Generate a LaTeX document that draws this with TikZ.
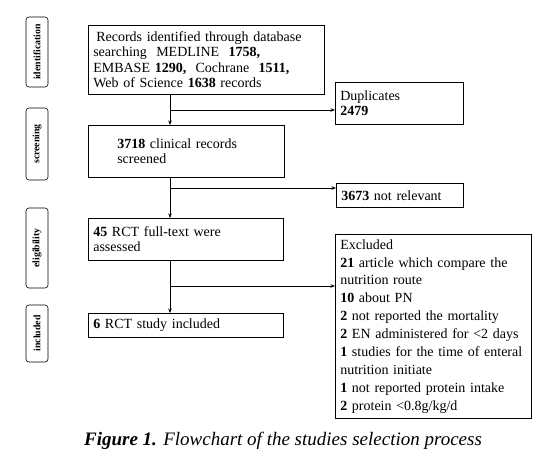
\documentclass[tikz,border=0pt]{standalone}
\usepackage{fontspec}
\setmainfont{Liberation Serif}
\usetikzlibrary{arrows.meta}
\begin{document}
\begin{tikzpicture}[x=1pt,y=-1pt,
  box/.style={draw, line width=0.6pt, anchor=north west, align=left, inner xsep=5pt, inner ysep=2pt, font=\fontsize{14}{15.5}\selectfont},
  lab/.style={draw, rounded corners=3pt, line width=0.6pt, minimum height=22pt, inner sep=1pt, rotate=90, font=\fontsize{9.8}{11}\selectfont\bfseries},
  conn/.style={line width=0.6pt},
  arr/.style={line width=0.6pt, -{Stealth[length=4.5pt,width=3.5pt]}}
]
\useasboundingbox (0,0) rectangle (553,463);
% stage labels
\node[lab, minimum width=70pt] (lid) at (37,52) {identification};
\node[lab, minimum width=72pt] (lsc) at (37,144) {screening};
\node[lab, minimum width=80pt] (lel) at (37,248) {eligibility};
\node[lab, minimum width=57pt] (lin) at (37,333.5) {included};
% boxes
\node[box, text width=226pt, minimum height=69pt] (b1) at (88,25)
  {\hspace*{3pt}Records identified through database\\searching\ \ MEDLINE\ \ \textbf{1758,}\\EMBASE \textbf{1290,}\ \ Cochrane\ \ \textbf{1511,}\\Web of Science \textbf{1638} records};
\node[box, text width=118pt, minimum height=42pt] (dup) at (335,82)
  {Duplicates\\\textbf{2479}};
\node[box, text width=186pt, minimum height=52pt] (b2) at (88,125)
  {\hspace*{24pt}\textbf{3718} clinical records\\\hspace*{24pt}screened};
\node[box, text width=117pt, minimum height=24pt] (nr) at (336,183)
  {\textbf{3673} not relevant};
\node[box, text width=185pt, minimum height=42pt] (b3) at (88,218)
  {\textbf{45} RCT full-text were\\assessed};
\node[box, text width=190pt, inner xsep=3pt, minimum height=184pt, font=\fontsize{14}{17.9}\selectfont] (exc) at (335,234)
  {\hspace*{2pt}Excluded\\\hspace*{2pt}\textbf{21} article which compare the\\\hspace*{2pt}nutrition route\\\hspace*{2pt}\textbf{10} about PN\\\hspace*{2pt}\textbf{2} not reported the mortality\\\hspace*{2pt}\textbf{2} EN administered for <2 days\\\hspace*{2pt}\textbf{1} studies for the time of enteral\\\hspace*{2pt}nutrition initiate\\\hspace*{2pt}\textbf{1} not reported protein intake\\\hspace*{2pt}\textbf{2} protein <0.8g/kg/d};
\node[box, text width=185pt, minimum height=24pt] (b4) at (88,313)
  {\textbf{6} RCT study included};
% connectors
\coordinate (sp) at (170,0);
\coordinate (j1) at (170,110);
\coordinate (j2) at (170,188);
\coordinate (j3) at (170,286);
\draw[arr] (sp |- b1.south) -- (sp |- b2.north);
\draw[arr] (j1) -- (j1 -| dup.west);
\draw[arr] (sp |- b2.south) -- (sp |- b3.north);
\draw[arr] (j2) -- (j2 -| nr.west);
\draw[arr] (sp |- b3.south) -- (sp |- b4.north);
\draw[arr] (j3) -- (j3 -| exc.west);
% caption
\node[font=\fontsize{19}{22}\selectfont\itshape] (cap) at (283,441) {\textbf{Figure 1.} Flowchart of the studies selection process};
\end{tikzpicture}
\end{document}
